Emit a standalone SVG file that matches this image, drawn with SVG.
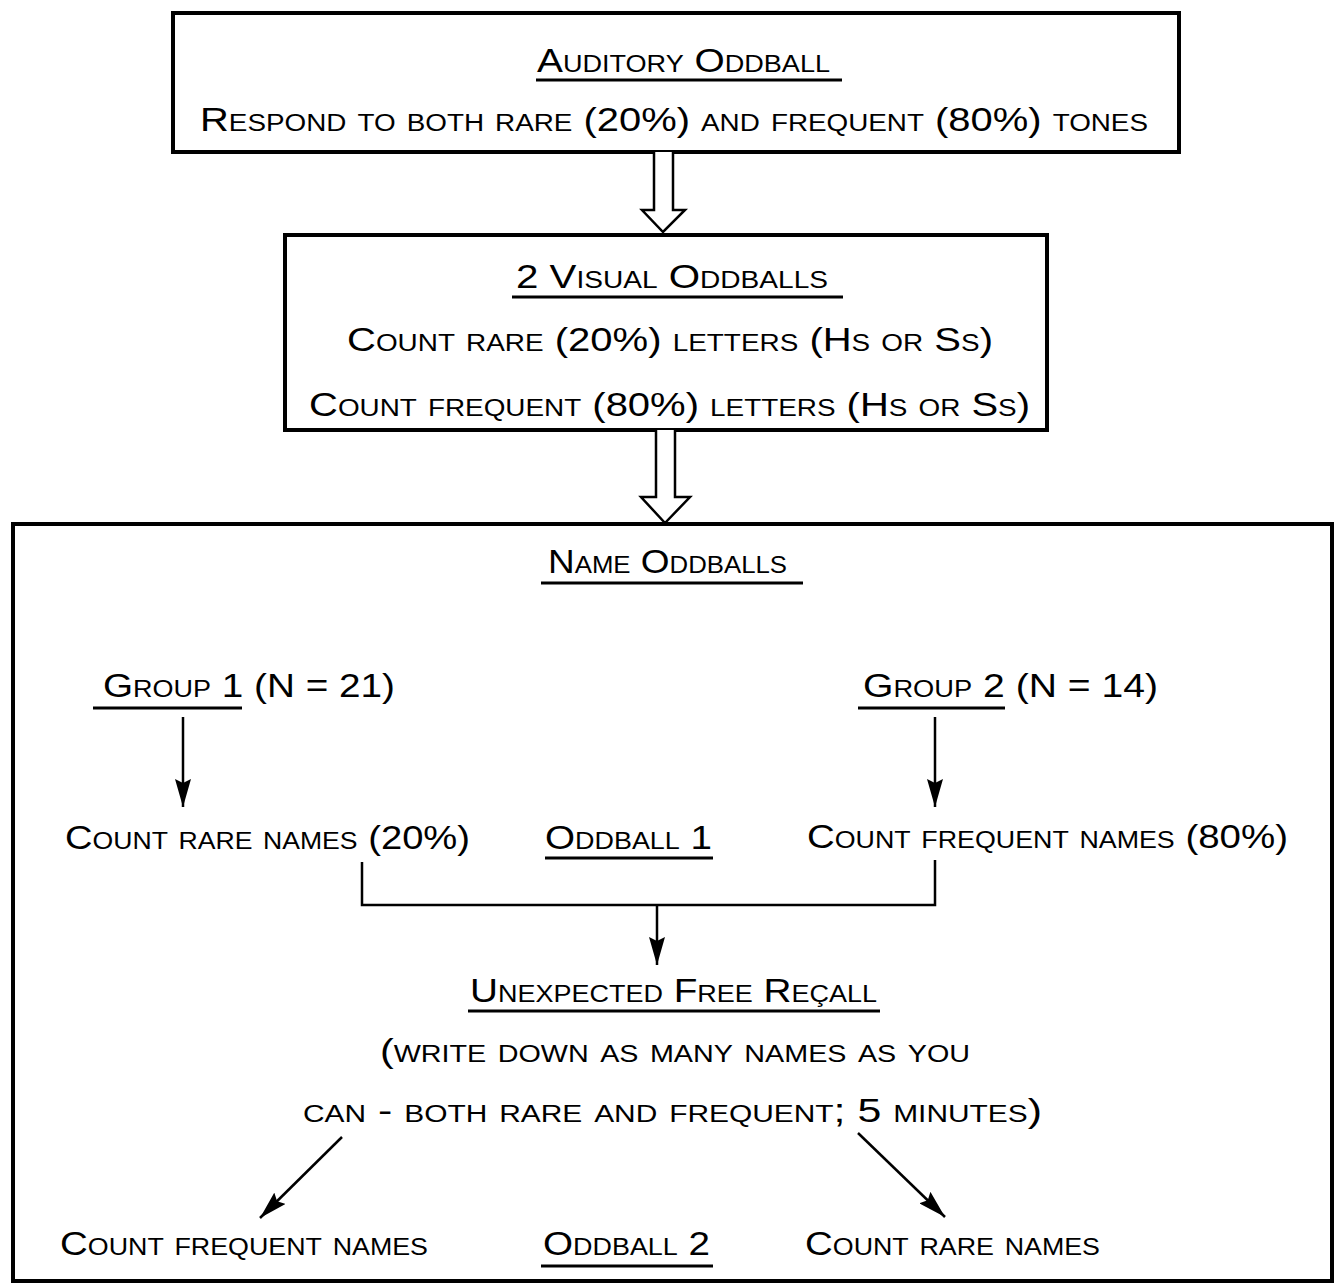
<svg xmlns="http://www.w3.org/2000/svg" width="1335" height="1283" viewBox="0 0 1335 1283">
<style>
.box{fill:#fff;stroke:#000;stroke-width:4}
.t{font-family:"Liberation Sans",Arial,sans-serif;font-size:33px;font-variant:small-caps;fill:#000}
.ul{stroke:#000;stroke-width:3}
.hollow{fill:#fff;stroke:#000;stroke-width:2.5;stroke-linejoin:miter}
.c{fill:none;stroke:#000;stroke-width:2.5}
</style>
<defs>
<marker id="ah" viewBox="0 0 28 16" markerWidth="28" markerHeight="16" refX="28" refY="8" orient="auto" markerUnits="userSpaceOnUse">
<path d="M0,0 L28,8 L0,16 L4,8 z" fill="#000"/>
</marker>
</defs>
<rect width="1335" height="1283" fill="#fff"/>
<g id="auditory">
<rect class="box" x="173" y="13" width="1006" height="139"/>
<text class="t" x="537" y="72" textLength="293" lengthAdjust="spacingAndGlyphs">Auditory Oddball</text>
<line class="ul" x1="536" y1="80" x2="842" y2="80"/>
<text class="t" x="200" y="131" textLength="948" lengthAdjust="spacingAndGlyphs">Respond to both rare (20%) and frequent (80%) tones</text>
</g>
<g id="visual">
<rect class="box" x="285" y="235" width="762" height="195"/>
<text class="t" x="516" y="288" textLength="312" lengthAdjust="spacingAndGlyphs">2 Visual Oddballs</text>
<line class="ul" x1="512" y1="297" x2="843" y2="297"/>
<text class="t" x="347" y="351" textLength="646" lengthAdjust="spacingAndGlyphs">Count rare (20%) letters (Hs or Ss)</text>
<text class="t" x="309" y="416" textLength="721" lengthAdjust="spacingAndGlyphs">Count frequent (80%) letters (Hs or Ss)</text>
</g>
<g id="names">
<rect class="box" x="13" y="524" width="1319" height="757"/>
<text class="t" x="548" y="573" textLength="239" lengthAdjust="spacingAndGlyphs">Name Oddballs</text>
<line class="ul" x1="541" y1="583" x2="803" y2="583"/>
</g>
<g id="group1">
<text class="t" x="103" y="697" textLength="292" lengthAdjust="spacingAndGlyphs">Group 1 (N = 21)</text>
<line class="ul" x1="93" y1="708" x2="242" y2="708"/>
</g>
<g id="group2">
<text class="t" x="863" y="697" textLength="295" lengthAdjust="spacingAndGlyphs">Group 2 (N = 14)</text>
<line class="ul" x1="858" y1="708" x2="1005" y2="708"/>
</g>
<g id="count-rare-20">
<text class="t" x="65" y="849" textLength="405" lengthAdjust="spacingAndGlyphs">Count rare names (20%)</text>
</g>
<g id="oddball1">
<text class="t" x="545" y="849" textLength="167" lengthAdjust="spacingAndGlyphs">Oddball 1</text>
<line class="ul" x1="545" y1="858" x2="713" y2="858"/>
</g>
<g id="count-frequent-80">
<text class="t" x="807" y="848" textLength="481" lengthAdjust="spacingAndGlyphs">Count frequent names (80%)</text>
</g>
<g id="recall">
<text class="t" x="470" y="1002" textLength="407" lengthAdjust="spacingAndGlyphs">Unexpected Free Reçall</text>
<line class="ul" x1="468" y1="1011" x2="880" y2="1011"/>
<text class="t" x="380" y="1062" textLength="590" lengthAdjust="spacingAndGlyphs">(write down as many names as you</text>
<text class="t" x="303" y="1122" textLength="739" lengthAdjust="spacingAndGlyphs">can - both rare and frequent; 5 minutes)</text>
</g>
<g id="count-frequent">
<text class="t" x="60" y="1255" textLength="368" lengthAdjust="spacingAndGlyphs">Count frequent names</text>
</g>
<g id="oddball2">
<text class="t" x="543" y="1255" textLength="167" lengthAdjust="spacingAndGlyphs">Oddball 2</text>
<line class="ul" x1="541" y1="1266" x2="713" y2="1266"/>
</g>
<g id="count-rare">
<text class="t" x="805" y="1255" textLength="295" lengthAdjust="spacingAndGlyphs">Count rare names</text>
</g>
<g id="connectors">
<path class="hollow" d="M654,152 V210 H642 L663,232 L685,210 H673 V152"/>
<path class="hollow" d="M656,430 V497 H641 L665,523 L690,497 H675 V430"/>
<path class="c" d="M183,717 V807" marker-end="url(#ah)"/>
<path class="c" d="M935,717 V807" marker-end="url(#ah)"/>
<path class="c" d="M362,862 V905 H935 V860"/>
<path class="c" d="M657,905 V965" marker-end="url(#ah)"/>
<path class="c" d="M342,1137 L260,1218" marker-end="url(#ah)"/>
<path class="c" d="M858,1133 L945,1217" marker-end="url(#ah)"/>
</g>
</svg>
